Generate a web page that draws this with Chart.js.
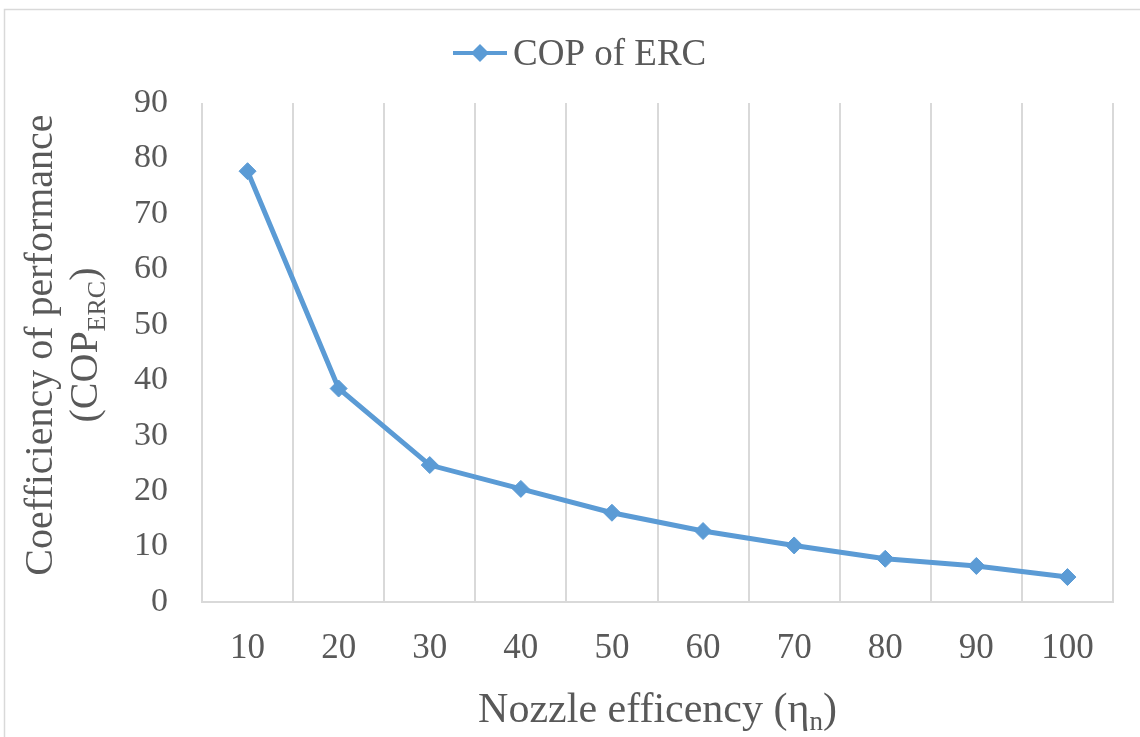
<!DOCTYPE html>
<html>
<head>
<meta charset="utf-8">
<script src="https://cdn.jsdelivr.net/npm/chart.js@4"></script>
<style>
  html, body { margin: 0; padding: 0; background: #fff; }
  #wrap { width: 1140px; height: 737px; }
</style>
</head>
<body>
<div id="wrap"><canvas id="myChart"></canvas></div>
<script>
const efficiency = ['10', '20', '30', '40', '50', '60', '70', '80', '90', '100'];
const copErc = [77.7, 38.5, 24.7, 20.4, 16.1, 12.8, 10.2, 7.8, 6.5, 4.5];
const yTicks = [0, 10, 20, 30, 40, 50, 60, 70, 80, 90];
const seriesName = 'COP of ERC';

const blue = '#5B9BD5';
const textGrey = '#595959';
const gridGrey = '#d9d9d9';
const serif = '"Liberation Serif", "Times New Roman", serif';

// draws "main" followed by a lowered smaller "sub" and an optional tail
function drawSubText(ctx, parts, x, y, size) {
    const big = size + 'px ' + serif;
    const small = Math.round(size * 0.65) + 'px ' + serif;
    let total = 0;
    parts.forEach(p => {
        ctx.font = p.sub ? small : big;
        p.w = ctx.measureText(p.text).width;
        total += p.w;
    });
    let cx = x - total / 2;
    parts.forEach(p => {
        ctx.font = p.sub ? small : big;
        ctx.fillText(p.text, cx, p.sub ? y + size * 0.2 : y);
        cx += p.w;
    });
}

// legend (line + diamond + name) and axis titles with subscripts
const decorations = {
    id: 'decorations',
    afterDraw(chart) {
        const ctx = chart.ctx;
        const area = chart.chartArea;
        const ds = chart.data.datasets[0];
        ctx.save();
        ctx.fillStyle = textGrey;
        ctx.textAlign = 'left';
        ctx.textBaseline = 'alphabetic';

        // legend
        ctx.strokeStyle = ds.borderColor;
        ctx.lineWidth = 4;
        ctx.beginPath();
        ctx.moveTo(453, 53);
        ctx.lineTo(507, 53);
        ctx.stroke();
        ctx.fillStyle = ds.pointBackgroundColor;
        ctx.beginPath();
        ctx.moveTo(480, 44);
        ctx.lineTo(489, 53);
        ctx.lineTo(480, 62);
        ctx.lineTo(471, 53);
        ctx.closePath();
        ctx.fill();
        ctx.fillStyle = textGrey;
        ctx.font = '37px ' + serif;
        ctx.fillText(ds.label, 513, 65);

        // x title
        drawSubText(ctx, [
            { text: 'Nozzle efficency (η' },
            { text: 'n', sub: true },
            { text: ')' }
        ], (area.left + area.right) / 2, 722, 42);

        // y title, two lines
        const midY = 345;
        ctx.save();
        ctx.translate(52, midY);
        ctx.rotate(-Math.PI / 2);
        drawSubText(ctx, [{ text: 'Coefficiency of performance' }], 0, 0, 40);
        ctx.restore();

        ctx.save();
        ctx.translate(97, midY);
        ctx.rotate(-Math.PI / 2);
        drawSubText(ctx, [
            { text: '(COP' },
            { text: 'ERC', sub: true },
            { text: ')' }
        ], 0, 0, 40);
        ctx.restore();

        // chart frame
        ctx.strokeStyle = gridGrey;
        ctx.lineWidth = 1.5;
        ctx.strokeRect(4.5, 9.5, 1150, 750);
        ctx.restore();
    }
};

const ctx = document.getElementById('myChart').getContext('2d');
new Chart(ctx, {
    type: 'line',
    data: {
        labels: efficiency,
        datasets: [{
            label: seriesName,
            data: copErc,
            borderColor: blue,
            backgroundColor: blue,
            borderWidth: 5,
            pointStyle: 'rectRot',
            pointRadius: 8.5,
            pointBorderWidth: 1,
            pointBackgroundColor: blue,
            pointBorderColor: blue,
            tension: 0
        }]
    },
    options: {
        responsive: true,
        maintainAspectRatio: false,
        animation: false,
        layout: { padding: { top: 103, right: 27, left: 0, bottom: 0 } },
        plugins: {
            legend: { display: false },
            tooltip: { enabled: false }
        },
        scales: {
            x: {
                offset: true,
                grid: { offset: true, color: gridGrey, lineWidth: 2, drawTicks: false },
                border: { color: gridGrey, width: 2 },
                ticks: {
                    color: textGrey,
                    padding: 26,
                    maxRotation: 0,
                    font: { family: serif, size: 35 }
                },
                afterFit(scale) { scale.height = 135; }
            },
            y: {
                min: 0,
                max: 90,
                afterBuildTicks(scale) { scale.ticks = yTicks.map(v => ({ value: v })); },
                grid: { display: false, drawTicks: false },
                border: { display: false },
                ticks: {
                    color: textGrey,
                    padding: 34,
                    font: { family: serif, size: 34 }
                },
                afterFit(scale) { scale.width = 202; }
            }
        }
    },
    plugins: [decorations]
});
</script>
</body>
</html>
